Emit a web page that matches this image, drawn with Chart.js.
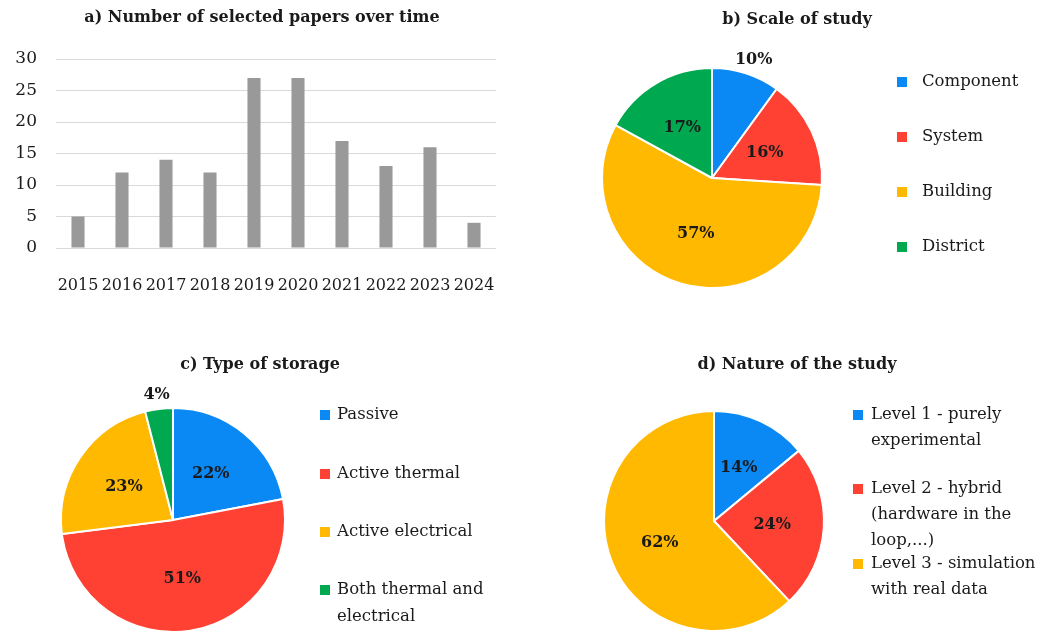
<!DOCTYPE html>
<html>
<head>
<meta charset="utf-8">
<script src="https://cdn.jsdelivr.net/npm/chart.js@4/dist/chart.umd.min.js"></script>
<style>
  html, body { margin: 0; padding: 0; background: #fff; overflow: hidden; }
  body { width: 1061px; height: 632px; position: relative; }
  canvas { position: absolute; }
</style>
</head>
<body>
<canvas id="papersChart" style="left:0;top:0" width="520" height="300"></canvas>
<canvas id="scaleChart" style="left:520px;top:0" width="541" height="310"></canvas>
<canvas id="storageChart" style="left:0;top:330px" width="530" height="310"></canvas>
<canvas id="natureChart" style="left:520px;top:330px" width="541" height="310"></canvas>
<script>
// a) papers per year
const years = ['2015', '2016', '2017', '2018', '2019', '2020', '2021', '2022', '2023', '2024'];
const papers = [5, 12, 14, 12, 27, 27, 17, 13, 16, 4];
const yTicks = [0, 5, 10, 15, 20, 25, 30];

// b) scale of study (%)
const scaleLabels = ['Component', 'System', 'Building', 'District'];
const scaleShares = [10, 16, 57, 17];

// c) type of storage (%)
const storageLabels = ['Passive', 'Active thermal', 'Active electrical', ['Both thermal and', 'electrical']];
const storageShares = [22, 51, 23, 4];

// d) nature of the study (%)
const natureLabels = [
    ['Level 1 - purely', 'experimental'],
    ['Level 2 - hybrid', '(hardware in the', 'loop,...)'],
    ['Level 3 - simulation', 'with real data']
];
const natureShares = [14, 24, 62];

const sliceColors = ['#0A88F4', '#FF4133', '#FFB900', '#00A84F'];

const FONT = '"DejaVu Serif", "Liberation Serif", serif';
const TEXT = '#1a1a1a';

Chart.defaults.font.family = FONT;
Chart.defaults.color = TEXT;
Chart.defaults.animation = false;

// titles, legend and % labels drawn on top of each panel
function makeDecor(cfg) {
    return {
        id: 'decor',
        afterDraw(chart) {
            const ctx = chart.ctx;
            ctx.save();
            ctx.fillStyle = TEXT;
            ctx.textBaseline = 'middle';

            // panel title
            ctx.font = 'bold 16px ' + FONT;
            ctx.textAlign = 'center';
            ctx.fillText(cfg.title, cfg.titleX, cfg.titleY);

            if (cfg.legend) {
                const ds = chart.data.datasets[0];
                ctx.font = '16.5px ' + FONT;
                ctx.textAlign = 'left';
                chart.data.labels.forEach((lab, i) => {
                    const lines = Array.isArray(lab) ? lab : [lab];
                    const y = cfg.legend.ys[i];
                    ctx.fillStyle = ds.backgroundColor[i];
                    ctx.fillRect(cfg.legend.markerX, y - 5, 10, 10);
                    ctx.fillStyle = TEXT;
                    lines.forEach((ln, k) => ctx.fillText(ln, cfg.legend.textX, y + k * cfg.legend.lineH));
                });
            }

            if (cfg.pct) {
                const ds = chart.data.datasets[0];
                ctx.font = 'bold 16px ' + FONT;
                ctx.textAlign = 'center';
                chart.getDatasetMeta(0).data.forEach((arc, i) => {
                    const p = arc.getProps(['x', 'y', 'startAngle', 'endAngle', 'outerRadius'], true);
                    const mid = (p.startAngle + p.endAngle) / 2;
                    const v = ds.data[i];
                    const txt = v + '%';
                    let lx, ly;
                    if (v <= 10) {
                        const w = ctx.measureText(txt).width;
                        const r = p.outerRadius + 6;
                        lx = p.x + Math.cos(mid) * r + Math.cos(mid) * w / 2;
                        ly = p.y + Math.sin(mid) * r + Math.sin(mid) * 8;
                    } else {
                        const r = p.outerRadius * 0.53;
                        lx = p.x + Math.cos(mid) * r;
                        ly = p.y + Math.sin(mid) * r;
                    }
                    ctx.fillText(txt, lx, ly);
                });
            }
            ctx.restore();
        }
    };
}

function pieChart(id, labels, values, padding, decor) {
    return new Chart(document.getElementById(id), {
        type: 'pie',
        data: {
            labels: labels,
            datasets: [{
                data: values,
                backgroundColor: sliceColors.slice(0, values.length),
                borderColor: '#ffffff',
                borderWidth: 2,
                hoverOffset: 0,
                offset: 0
            }]
        },
        options: {
            responsive: false,
            layout: { padding: padding },
            plugins: {
                legend: { display: false },
                tooltip: { enabled: false },
                title: { display: false }
            }
        },
        plugins: [makeDecor(decor)]
    });
}

document.addEventListener('DOMContentLoaded', function() {

// a) bar chart
new Chart(document.getElementById('papersChart'), {
    type: 'bar',
    data: {
        labels: years,
        datasets: [{
            data: papers,
            backgroundColor: '#999999',
            barPercentage: 0.9,
            categoryPercentage: 0.33
        }]
    },
    options: {
        responsive: false,
        layout: { padding: { top: 59, right: 24, left: 0, bottom: 0 } },
        scales: {
            x: {
                grid: { display: false },
                border: { display: false },
                ticks: { font: { size: 16 }, color: TEXT, padding: 20, maxRotation: 0 },
                afterFit(scale) { scale.height = 52; }
            },
            y: {
                min: 0,
                max: yTicks[yTicks.length - 1],
                afterBuildTicks(scale) { scale.ticks = yTicks.map(v => ({ value: v })); },
                grid: { color: '#d9d9d9', drawTicks: false },
                border: { display: false },
                ticks: { font: { size: 17 }, color: TEXT, padding: 19 },
                afterFit(scale) { scale.width = 56; }
            }
        },
        plugins: {
            legend: { display: false },
            tooltip: { enabled: false }
        }
    },
    plugins: [makeDecor({ title: 'a) Number of selected papers over time', titleX: 262, titleY: 18 })]
});

// b) scale of study
pieChart('scaleChart', scaleLabels, scaleShares,
    { left: 81, right: 238, top: 67, bottom: 21 },
    {
        title: 'b) Scale of study', titleX: 277, titleY: 20, pct: true,
        legend: { markerX: 377, textX: 402, lineH: 26, ys: [82, 137, 192, 247] }
    });

// c) type of storage
pieChart('storageChart', storageLabels, storageShares,
    { left: 60, right: 244, top: 77, bottom: 7 },
    {
        title: 'c) Type of storage', titleX: 260, titleY: 35, pct: true,
        legend: { markerX: 320, textX: 337, lineH: 27, ys: [85, 144, 202, 260] }
    });

// d) nature of the study
pieChart('natureChart', natureLabels, natureShares,
    { left: 83, right: 236, top: 80, bottom: 8 },
    {
        title: 'd) Nature of the study', titleX: 277, titleY: 35, pct: true,
        legend: { markerX: 333, textX: 351, lineH: 26, ys: [85, 159, 234] }
    });

});
</script>
</body>
</html>
